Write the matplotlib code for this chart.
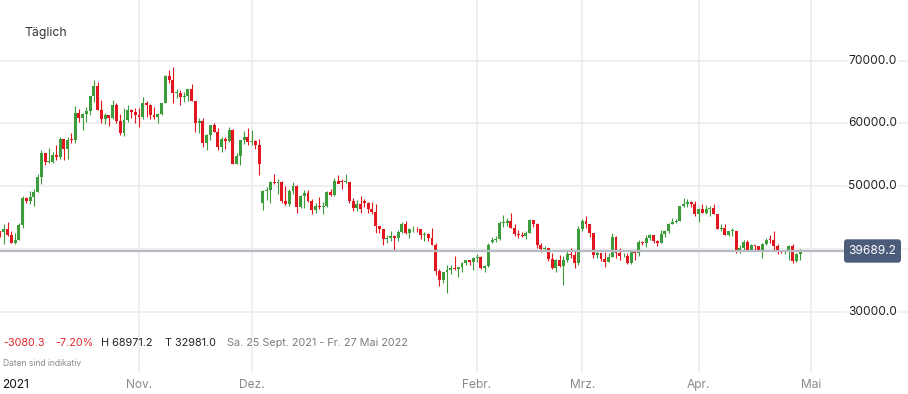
import numpy as np
import pandas as pd
import matplotlib
matplotlib.use("Agg")
import matplotlib.pyplot as plt
from matplotlib.patches import FancyBboxPatch
import matplotlib.transforms as mtransforms

plt.rcParams['font.family'] = ['Inter', 'DejaVu Sans']

# ---------------- data (USD thousands), daily candles 25 Sept 2021 - 28 Apr 2022
# (the feed has no candle for 25 Dec 2021 and 1 Jan 2022)
opens = [
    # Sep
    42.8, 42.7, 43.2, 42.2, 41.0, 41.5,
    # Oct
    43.8, 48.1, 47.7, 48.2, 49.1, 51.5, 55.3, 53.8, 53.9, 54.9, 54.6, 57.5, 56.0, 57.4, 57.3, 61.6,
    60.9, 61.5, 62.0, 64.3, 66.0, 62.2, 60.7, 61.3, 60.9, 63.0, 60.4, 58.5, 60.6, 62.2, 61.9,
    # Nov
    61.3, 61.0, 63.2, 62.9, 61.4, 61.0, 61.5, 63.3, 67.6, 66.9, 64.9, 64.9, 64.2, 64.4, 65.5, 63.6,
    60.1, 60.4, 56.9, 58.1, 59.7, 58.7, 56.3, 57.6, 57.2, 58.9, 53.6, 54.8, 57.3, 57.8,
    # Dec (no 25th)
    57.0, 57.2, 56.5, 47.3, 49.2, 49.4, 50.6, 50.5, 50.6, 47.6, 47.1, 49.3, 50.1, 46.7, 48.4, 48.9,
    47.6, 46.2, 46.8, 46.7, 46.9, 49.0, 48.6, 50.8, 50.8, 50.6, 50.6, 47.6, 46.5, 47.1,
    # Jan (no 1st)
    47.7, 47.3, 46.4, 45.9, 43.6, 43.1, 41.6, 41.8, 42.0, 41.8, 42.7, 43.9, 42.6, 43.1, 43.2, 43.1,
    42.2, 42.4, 41.7, 40.7, 36.5, 35.0, 36.3, 36.7, 36.9, 36.8, 37.2, 37.7, 38.2, 37.9,
    # Feb
    38.5, 38.7, 36.9, 37.3, 41.1, 41.5, 41.6, 44.1, 44.2, 44.5, 43.4, 42.4, 42.2, 42.1, 42.6, 44.6,
    43.9, 40.6, 40.0, 40.1, 38.4, 37.0, 38.3, 37.3, 38.3, 39.2, 39.1, 37.7,
    # Mar
    43.2, 44.4, 44.0, 42.5, 39.1, 39.4, 38.4, 38.0, 38.7, 41.9, 39.4, 38.8, 38.9, 37.8, 39.7, 39.3,
    41.1, 40.9, 41.8, 42.2, 41.3, 41.0, 42.4, 42.9, 44.0, 44.3, 44.5, 46.8, 47.1, 47.5, 47.1,
    # Apr
    45.5, 46.3, 45.8, 46.4, 46.6, 45.5, 43.2, 43.4, 42.3, 42.8, 42.8, 39.5, 40.1, 41.1, 39.9, 40.6,
    40.4, 39.7, 40.8, 41.5, 41.4, 40.5, 39.7, 39.5, 39.5, 40.4, 38.1, 39.2,
]
highs = [
    42.9, 43.9, 44.3, 42.8, 42.6, 44.1,
    48.4, 48.3, 49.2, 49.5, 51.9, 55.7, 55.3, 56.1, 55.4, 56.5, 57.8, 57.6, 57.9, 58.5, 62.8, 62.3,
    61.7, 62.6, 64.4, 66.9, 66.6, 63.7, 61.7, 61.4, 63.7, 63.3, 61.5, 62.4, 62.9, 62.3, 62.4,
    62.4, 64.2, 63.5, 63.1, 62.6, 61.6, 63.3, 67.8, 68.5, 68.9712, 65.5, 65.4, 65.0, 65.5, 66.3, 63.6,
    60.8, 60.9, 58.3, 59.8, 60.0, 59.3, 57.8, 57.8, 59.4, 59.1, 55.3, 57.4, 58.8, 59.2,
    59.0, 57.4, 57.6, 49.4, 49.9, 50.9, 51.9, 51.2, 50.8, 50.1, 49.5, 50.7, 50.2, 48.6, 49.4, 49.4,
    48.0, 47.3, 48.3, 47.5, 49.3, 49.5, 51.3, 51.8, 51.2, 52.0, 50.7, 48.1, 47.8, 48.5,
    47.9, 47.5, 47.5, 47.1, 43.7, 43.1, 42.3, 42.8, 42.2, 43.0, 44.3, 44.4, 43.4, 43.7, 43.5, 43.1,
    42.7, 42.5, 43.4, 41.0, 36.8, 36.4, 37.5, 37.5, 38.9, 37.2, 38.0, 38.3, 38.3, 38.7,
    39.2, 38.8, 37.4, 41.0, 41.9, 42.0, 44.4, 45.4, 44.9, 45.8, 43.9, 43.0, 42.7, 42.8, 44.7, 44.6,
    44.1, 40.9, 40.4, 40.1, 39.4, 38.4, 39.1, 38.9, 39.6, 40.1, 39.8, 43.7,
    44.8, 45.3, 44.0, 42.5, 39.6, 39.4, 39.5, 39.3, 42.5, 42.0, 40.1, 39.4, 39.3, 39.9, 39.9, 41.5,
    41.3, 42.3, 42.4, 42.3, 41.5, 43.0, 43.0, 44.1, 45.0, 44.8, 46.9, 48.1, 48.0, 47.6, 47.6,
    46.6, 47.2, 47.0, 46.9, 47.1, 45.5, 43.9, 43.9, 42.8, 43.4, 42.9, 40.6, 41.5, 41.5, 40.8, 40.6,
    40.5, 41.0, 41.7, 42.2, 42.9, 40.8, 39.9, 39.9, 40.6, 40.8, 39.4, 40.0,
]
lows = [
    41.9, 40.8, 42.1, 40.9, 40.8, 41.4,
    43.3, 47.4, 47.1, 46.9, 49.1, 50.4, 53.4, 53.7, 53.7, 54.1, 54.4, 54.1, 54.3, 56.9, 56.9, 60.3,
    58.9, 60.2, 61.4, 63.4, 62.1, 60.1, 59.9, 59.6, 60.7, 60.1, 58.1, 58.0, 60.2, 60.8, 60.0,
    59.4, 60.7, 61.0, 60.7, 60.7, 60.1, 61.3, 63.3, 66.4, 63.3, 64.1, 62.9, 63.4, 63.6, 63.6, 58.7,
    58.4, 56.3, 55.7, 57.4, 58.6, 55.7, 55.4, 55.9, 57.0, 53.6, 53.6, 53.3, 56.8, 56.6,
    56.5, 55.9, 51.8, 46.2, 47.8, 47.3, 50.4, 48.8, 47.4, 47.0, 46.8, 48.7, 45.8, 46.6, 46.6, 47.5,
    45.6, 45.7, 46.4, 45.6, 46.7, 48.5, 48.4, 50.5, 49.6, 50.5, 47.3, 46.1, 46.0, 45.7,
    46.7, 45.7, 45.5, 42.6, 42.5, 40.7, 41.0, 41.3, 39.8, 41.3, 42.5, 42.4, 41.7, 42.7, 42.7, 41.6,
    41.3, 41.2, 40.6, 35.8, 34.1, 34.6, 32.981, 36.0, 36.7, 35.6, 36.3, 37.4, 37.4, 36.6,
    38.0, 36.8, 36.3, 37.1, 41.0, 41.1, 41.5, 43.5, 43.6, 43.3, 42.0, 41.8, 41.9, 41.6, 42.5, 43.5,
    40.2, 39.5, 39.7, 38.1, 36.8, 36.4, 37.1, 34.3, 38.0, 38.6, 37.0, 37.4,
    42.9, 43.4, 41.9, 38.6, 38.6, 38.1, 37.2, 38.0, 38.7, 38.6, 38.3, 38.7, 37.6, 37.6, 38.2, 38.9,
    40.6, 40.3, 41.5, 40.9, 40.5, 40.9, 41.9, 42.6, 43.9, 44.2, 44.5, 46.7, 46.7, 46.7, 45.3,
    44.3, 45.7, 45.6, 45.3, 45.5, 43.2, 42.8, 42.2, 42.1, 42.0, 39.3, 39.3, 39.6, 39.6, 39.8, 39.9,
    39.6, 38.6, 40.6, 40.9, 39.8, 39.2, 39.4, 39.2, 38.3, 37.8, 37.9, 38.2,
]
closes = [
    42.7, 43.2, 42.2, 41.0, 41.5, 43.8,
    48.1, 47.7, 48.2, 49.1, 51.5, 55.3, 53.8, 53.9, 54.9, 54.6, 57.5, 56.0, 57.4, 57.3, 61.6, 60.9,
    61.5, 62.0, 64.3, 66.0, 62.2, 60.7, 61.3, 60.9, 63.0, 60.4, 58.5, 60.6, 62.2, 61.9, 61.3,
    61.0, 63.2, 62.9, 61.4, 61.0, 61.5, 63.3, 67.6, 66.9, 64.9, 64.9, 64.2, 64.4, 65.5, 63.6, 60.1,
    60.4, 56.9, 58.1, 59.7, 58.7, 56.3, 57.6, 57.2, 58.9, 53.6, 54.8, 57.3, 57.8, 57.0,
    57.2, 56.5, 53.6, 49.2, 49.4, 50.6, 50.5, 50.6, 47.6, 47.1, 49.3, 50.1, 46.7, 48.4, 48.9, 47.6,
    46.2, 46.8, 46.7, 46.9, 49.0, 48.6, 50.8, 50.4, 50.6, 50.6, 47.6, 46.5, 47.1, 46.3,
    47.3, 46.4, 45.9, 43.6, 43.1, 41.6, 41.8, 42.0, 41.8, 42.7, 43.9, 42.6, 43.1, 43.2, 43.1, 42.2,
    42.4, 41.7, 40.7, 36.5, 35.0, 36.3, 36.7, 36.9, 36.8, 37.2, 37.7, 38.2, 37.9, 38.5,
    38.7, 36.9, 37.3, 40.7, 41.5, 41.6, 44.1, 44.2, 44.5, 43.4, 42.4, 42.2, 42.1, 42.6, 44.6, 43.9,
    40.6, 40.0, 40.1, 38.4, 37.0, 38.3, 37.3, 38.3, 39.2, 39.1, 37.7, 43.2,
    44.4, 44.0, 42.5, 39.1, 39.4, 38.4, 38.0, 38.7, 41.9, 39.4, 38.8, 38.9, 37.8, 39.7, 39.3, 41.1,
    40.9, 41.8, 42.2, 41.3, 41.0, 42.4, 42.9, 44.0, 44.3, 44.5, 46.8, 47.1, 47.5, 47.1, 45.5,
    46.3, 45.8, 46.4, 46.6, 45.5, 43.2, 43.4, 42.3, 42.8, 42.8, 39.5, 40.1, 41.1, 39.9, 40.6, 40.4,
    39.7, 40.8, 41.5, 41.4, 40.5, 39.7, 39.5, 39.5, 40.4, 38.1, 39.2, 39.6892,
]
missing_days = ["2021-12-25", "2022-01-01"]
month_labels = ["Nov.", "Dez.", "Febr.", "Mrz.", "Apr.", "Mai"]
month_starts = ["2021-11-01", "2021-12-01", "2022-02-01", "2022-03-01", "2022-04-01", "2022-05-01"]
grid_values = [30000, 40000, 50000, 60000, 70000]
ytick_labels = [30000, 50000, 60000, 70000]   # 40000 is covered by the price tag
last_price = 39689.2
stats = [("-3080.3", "#e2252b"), ("-7.20%", "#e2252b"), ("H 68971.2", "#222222"),
         ("T 32981.0", "#222222"), ("Sa. 25 Sept. 2021 - Fr. 27 Mai 2022", "#7a7a80")]
stats_x = [3, 55, 101, 165, 227]

# ---------------- build
dates = pd.date_range("2021-09-25", "2022-04-28", freq="D")
dates = dates[~dates.isin(pd.to_datetime(missing_days))]
o = np.array(opens) * 1000
h = np.array(highs) * 1000
l = np.array(lows) * 1000
c = np.array(closes) * 1000
n = min(len(dates), len(o), len(h), len(l), len(c))
o, h, l, c = o[:n], h[:n], l[:n], c[:n]
x = np.arange(n)

def slot_of(d):
    d = pd.Timestamp(d)
    idx = np.searchsorted(dates.values, d.to_datetime64())
    if idx < len(dates):
        return idx
    return len(dates) - 1 + (d - dates[-1]).days

W, H = 908, 394
fig = plt.figure(figsize=(W / 100, H / 100), dpi=100)
fig.patch.set_facecolor("white")
ax_bottom_px = 373
ax = fig.add_axes([0, (H - ax_bottom_px) / H, 1, ax_bottom_px / H])
ax.set_facecolor("white")
for s in ax.spines.values():
    s.set_visible(False)
ax.set_xticks([])
ax.set_yticks([])

px_per_slot = 3.756
x0_px = 0.03
ax.set_xlim((0 - x0_px) / px_per_slot, (W - x0_px) / px_per_slot)
px_per_unit = 6.275 / 1000.0  # px per USD
y70_px = 60.7
top_val = 70000 + y70_px / px_per_unit
bot_val = top_val - ax_bottom_px / px_per_unit
ax.set_ylim(bot_val, top_val)

grid_col = "#eeeeee"
for v in grid_values:
    ax.axhline(v, color=grid_col, lw=1.3, zorder=0)
for d in month_starts:
    ax.axvline(slot_of(d), color=grid_col, lw=1.3, zorder=0)

green = "#3c9c3c"
red = "#e2161e"
up = c >= o
cols = np.where(up, green, red)
ax.vlines(x, l, h, colors=cols, lw=0.8, zorder=2)
body_h = np.maximum(np.abs(c - o), 150)
ax.bar(x, body_h, bottom=np.minimum(o, c), width=0.78, color=cols, linewidth=0, zorder=3)

# last price line
ax.plot([ax.get_xlim()[0], (844 - x0_px) / px_per_slot], [last_price, last_price],
        color="#b6bac4", lw=1.6, zorder=4, solid_capstyle="butt")

# y tick labels (inside, right)
trans = mtransforms.blended_transform_factory(ax.transAxes, ax.transData)
for v in ytick_labels:
    ax.text(897 / W, v, f"{v:.1f}", transform=trans, ha="right", va="center",
            fontsize=8.6, color="#222222", zorder=5,
            bbox=dict(facecolor="white", edgecolor="none", pad=1.0))

# price box
box = FancyBboxPatch((844 / 100, (H - 262.7) / 100), (901 - 844) / 100, 23.4 / 100,
                     boxstyle="round,pad=0,rounding_size=0.03",
                     transform=fig.dpi_scale_trans, facecolor="#4b5c7b",
                     edgecolor="none", zorder=10)
fig.patches.append(box)
fig.text(872.5 / W, 1 - 251 / H, f"{last_price:.1f}", ha="center", va="center",
         fontsize=8.6, color="white", zorder=11)

# x labels
fig.text(2 / W, 1 - 385 / H, "2021", ha="left", va="center", fontsize=8.6, color="#111111")
for lab, d in zip(month_labels, month_starts):
    xp = (slot_of(d) * px_per_slot + x0_px) / W
    fig.text(xp, 1 - 385 / H, lab, ha="center", va="center", fontsize=8.6, color="#8a8a8a")

# header / stats
fig.text(24 / W, 1 - 33 / H, "Täglich", ha="left", va="center", fontsize=8.8, color="#333333")
for (t, col), xp in zip(stats, stats_x):
    fig.text(xp / W, 1 - 343 / H, t, ha="left", va="center", fontsize=7.8, color=col)
fig.text(3 / W, 1 - 364 / H, "Daten sind indikativ", ha="left", va="center",
         fontsize=6.2, color="#8a8a8a")

fig.savefig("out.png", dpi=100, facecolor="white")
